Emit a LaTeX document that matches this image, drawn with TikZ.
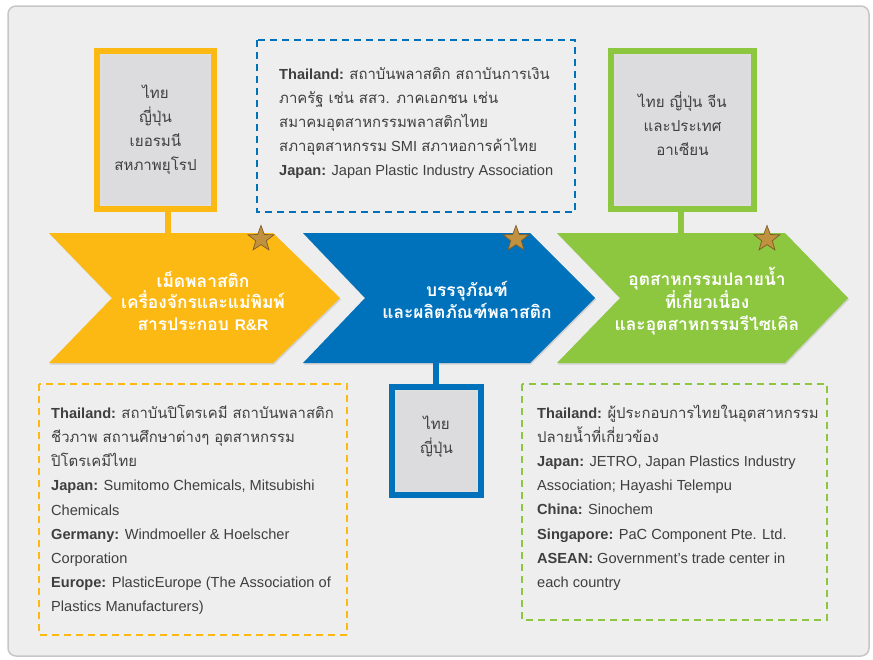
\documentclass[tikz,border=0pt]{standalone}
\usepackage{fontspec}
\setmainfont{Liberation Sans}
\newfontfamily\thai[Script=Thai,Scale=1.12]{Loma}
\newfontfamily\thaiinfo[Script=Thai,Scale=1.02]{Loma}
\usetikzlibrary{shapes.geometric,shadows}
\definecolor{cyel}{HTML}{FDB913}
\definecolor{cblu}{HTML}{0072BC}
\definecolor{cgrn}{HTML}{8DC63F}
\definecolor{bgpanel}{HTML}{EEEEEE}
\definecolor{txt}{HTML}{3F3F3F}
\definecolor{innerg}{HTML}{DCDCDE}
\definecolor{starc}{HTML}{C0913E}
\begin{document}
\begin{tikzpicture}[x=1pt,y=-1pt,
  country/.style={draw=#1, line width=6pt, fill=innerg, inner sep=0pt,
    path picture={\draw[black!13,line width=10pt] (path picture bounding box.south west) rectangle (path picture bounding box.north east);}},
  ctext/.style={align=center, text=txt, font=\thai\fontsize{13.5}{24}\selectfont},
  chev/.style={fill=#1, drop shadow={opacity=0.25,shadow xshift=1pt,shadow yshift=-1.5pt}},
  chtext/.style={align=center, text=white, font=\thai\bfseries\fontsize{15.5}{21.5}\selectfont},
  dbox/.style={draw=#1, line width=1.6pt, dash pattern=on 7pt off 5pt},
  info/.style={anchor=north west, align=left, text=txt, inner sep=0pt,
    font=\fontsize{14.6}{24.1}\selectfont},
  link/.style={draw=#1, line width=6pt},
  starnode/.style={star, star points=5, star point ratio=2.4, fill=starc,
    draw=starc!65!black, line width=0.7pt, minimum size=27pt, inner sep=0pt}
]
\useasboundingbox (0,0) rectangle (873,659);
\fill[white] (0,0) rectangle (873,659);
\draw[fill=bgpanel, draw=black!22, line width=1.5pt, rounded corners=8pt] (8,6) rectangle (869,656);

% chevrons
\path[chev=cyel] (49,233) -- (273,233) -- (340,298) -- (273,363) -- (49,363) -- (112,298) -- cycle;
\path[chev=cblu] (303,233) -- (530,233) -- (595,298) -- (530,363) -- (303,363) -- (365,298) -- cycle;
\path[chev=cgrn] (557,233) -- (785,233) -- (848,298) -- (785,363) -- (557,363) -- (620,298) -- cycle;

\node[chtext] (t1) at (203,301) {เม็ดพลาสติก\\เครื่องจักรและแม่พิมพ์\\สารประกอบ {\rmfamily\bfseries R\&R}};
\node[chtext] (t2) at (467,300) {บรรจุภัณฑ์\\และผลิตภัณฑ์พลาสติก};
\node[chtext] (t3) at (707,301) {อุตสาหกรรมปลายน้ำ\\ที่เกี่ยวเนื่อง\\และอุตสาหกรรมรีไซเคิล};

\node[starnode] (s1) at (261,239) {};
\node[starnode] (s2) at (516,239) {};
\node[starnode] (s3) at (767,239) {};

% country boxes
\node[country=cyel, minimum width=117pt, minimum height=158pt] (b1) at (155.5,130) {};
\node[ctext] at (b1.center) {ไทย\\ญี่ปุ่น\\เยอรมนี\\สหภาพยุโรป};
\node[country=cgrn, minimum width=143pt, minimum height=158pt] (b3) at (682.5,130) {};
\node[ctext] at ([yshift=6pt]b3.center) {ไทย ญี่ปุ่น จีน\\และประเทศ\\อาเซียน};
\node[country=cblu, minimum width=89pt, minimum height=108pt] (b2) at (436.5,441) {};
\node[ctext] at ([yshift=4pt]b2.center) {ไทย\\ญี่ปุ่น};

% links
\coordinate (k1) at (168,233);
\coordinate (k2) at (436,363);
\coordinate (k3) at (681,233);
\draw[link=cyel] (k1 |- b1.south) -- (k1);
\draw[link=cgrn] (k3 |- b3.south) -- (k3);
\draw[link=cblu] (k2) -- (k2 |- b2.north);

% dashed info boxes
\draw[dbox=cblu] (257,40) rectangle (575,212);
\node[info] (i1) at (279,67) {\textbf{Thailand:} {\thaiinfo สถาบันพลาสติก สถาบันการเงิน}\\
{\thaiinfo ภาครัฐ เช่น สสว. ภาคเอกชน เช่น}\\
{\thaiinfo สมาคมอุตสาหกรรมพลาสติกไทย}\\
{\thaiinfo สภาอุตสาหกรรม} SMI {\thaiinfo สภาหอการค้าไทย}\\
\textbf{Japan:} Japan Plastic Industry Association};

\draw[dbox=cyel] (39,384) rectangle (347,635);
\node[info] (i2) at (51,405) {\textbf{Thailand:} {\thaiinfo สถาบันปิโตรเคมี สถาบันพลาสติก}\\
{\thaiinfo ชีวภาพ สถานศึกษาต่างๆ อุตสาหกรรม}\\
{\thaiinfo ปิโตรเคมีไทย}\\
\textbf{Japan:} Sumitomo Chemicals, Mitsubishi\\
Chemicals\\
\textbf{Germany:} Windmoeller \& Hoelscher\\
Corporation\\
\textbf{Europe:} PlasticEurope (The Association of\\
Plastics Manufacturers)};

\draw[dbox=cgrn] (522,384) rectangle (827,620);
\node[info] (i3) at (537,405) {\textbf{Thailand:} {\thaiinfo ผู้ประกอบการไทยในอุตสาหกรรม}\\
{\thaiinfo ปลายน้ำที่เกี่ยวข้อง}\\
\textbf{Japan:} JETRO, Japan Plastics Industry\\
Association; Hayashi Telempu\\
\textbf{China:} Sinochem\\
\textbf{Singapore:} PaC Component Pte. Ltd.\\
\textbf{ASEAN:} Government’s trade center in\\
each country};
\end{tikzpicture}
\end{document}
